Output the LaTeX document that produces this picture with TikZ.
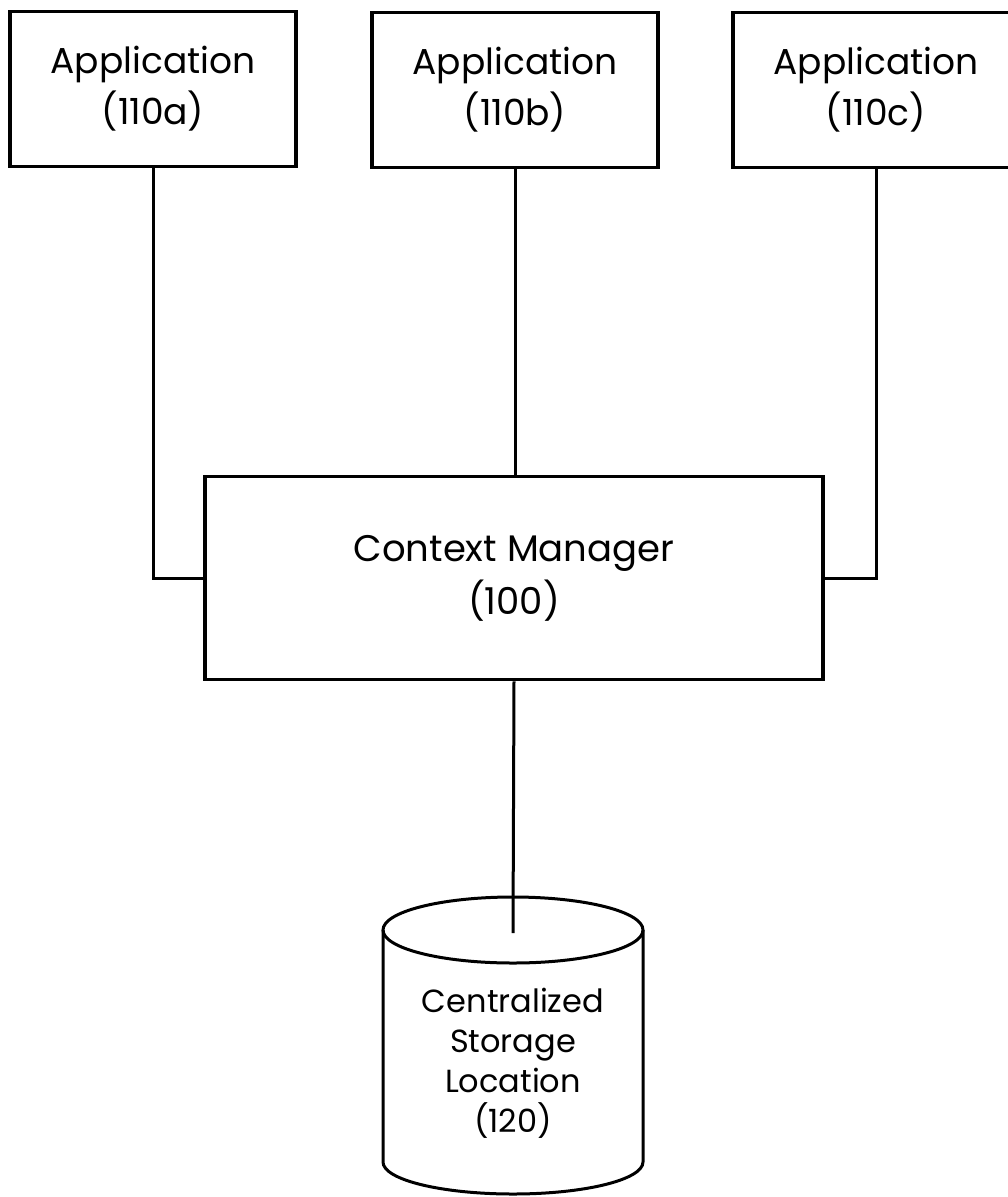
\documentclass[tikz,border=0pt]{standalone}
\usepackage{fontspec}
\setmainfont{Poppins}
\begin{document}
\begin{tikzpicture}[x=1pt,y=-1pt,line width=3pt,
  appbox/.style={draw, line width=3.5pt, minimum width=286pt, minimum height=155pt, inner sep=0pt, align=center, font=\fontsize{36}{51}\selectfont},
  mgrbox/.style={draw, line width=3.5pt, minimum width=618pt, minimum height=203pt, inner sep=0pt, align=center, font=\fontsize{37}{53}\selectfont},
  storetext/.style={inner sep=0pt, align=center, font=\fontsize{32}{40}\selectfont}]
\useasboundingbox (0,0) rectangle (1008,1197);
\clip (0,0) rectangle (1008,1197);
\node[appbox] (a) at (153,89) {Application\\(110a)};
\node[appbox] (b) at (515,90) {Application\\(110b)};
\node[appbox] (c) at (876,90) {Application\\(110c)};
\node[mgrbox] (m) at (514,578) {Context Manager\\(100)};
\coordinate (s) at (513,933);
\draw (a.south) |- (m.west);
\draw (b.south) -- (b.south |- m.north);
\draw (c.south) |- (m.east);
\draw (m.south) -- (s);
\draw (513,930) ellipse [x radius=130, y radius=33];
\draw (383,930) -- (383,1162) arc[start angle=180, end angle=0, x radius=130, y radius=32] -- (643,930);
\node[storetext] (st) at (513,1063) {Centralized\\Storage\\Location\\(120)};
\end{tikzpicture}
\end{document}
